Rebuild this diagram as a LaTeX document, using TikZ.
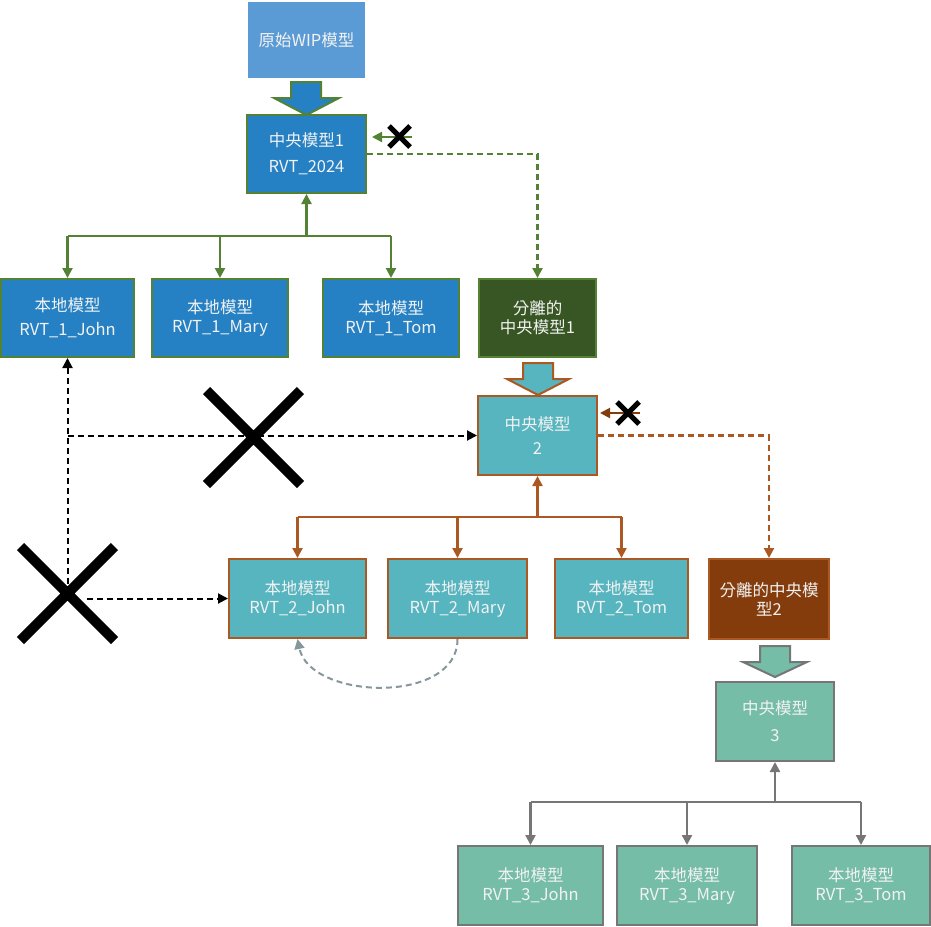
\documentclass[tikz,border=0pt]{standalone}
\usepackage{fontspec}
\newfontfamily\cjk{Noto Sans CJK TC}
\usetikzlibrary{arrows.meta,calc}
\definecolor{wipblue}{HTML}{5B9BD5}
\definecolor{boxblue}{HTML}{2581C4}
\definecolor{gborder}{HTML}{548235}
\definecolor{dkgreen}{HTML}{375623}
\definecolor{teal2}{HTML}{57B5BF}
\definecolor{brownl}{HTML}{AC5823}
\definecolor{dkbrown}{HTML}{843C0C}
\definecolor{sea}{HTML}{75BDA7}
\definecolor{grayl}{HTML}{767676}
\definecolor{curvec}{HTML}{86979B}
\definecolor{txt}{HTML}{F2F2F2}
\begin{document}
\begin{tikzpicture}[x=1pt,y=-1pt,
  box/.style={draw, line width=2pt, text=txt, align=center, inner sep=0pt,
    font=\cjk\fontsize{16.5}{19}\selectfont},
  bl/.style={box, fill=boxblue, draw=gborder},
  tl/.style={box, fill=teal2, draw=brownl},
  sl/.style={box, fill=sea, draw=grayl},
  tip/.style={-{Triangle[length=10pt,width=10pt]}},
  gline/.style={draw=gborder, line width=2.2pt},
  bline/.style={draw=brownl, line width=2.2pt},
  yline/.style={draw=grayl, line width=2.2pt},
  dsh/.style={dash pattern=on 6pt off 4pt},
  bdash/.style={draw=black, line width=2pt, dsh},
  xmark/.style={draw=black, line width=10pt},
  xsmall/.style={draw=black, line width=5pt},
  blockarrow/.style={line width=2pt, line join=miter}
]
\useasboundingbox (0,0) rectangle (931,926);

% nodes
\node[box, fill=wipblue, draw=none, minimum width=117pt, minimum height=76pt] (wip) at (306.5,40) {原始WIP模型};
\node[bl, minimum width=119pt, minimum height=78pt, font=\cjk\fontsize{16.5}{26}\selectfont] (c1) at (306.5,154) {中央模型1\\RVT\_2024};
\node[bl, minimum width=133pt, minimum height=78pt, font=\cjk\fontsize{16.5}{24}\selectfont] (l1j) at (67.5,318) {本地模型\\RVT\_1\_John};
\node[bl, minimum width=136pt, minimum height=78pt] (l1m) at (220,318) {本地模型\\RVT\_1\_Mary};
\node[bl, minimum width=136pt, minimum height=78pt] (l1t) at (391,318) {本地模型\\RVT\_1\_Tom};
\node[box, fill=dkgreen, draw=gborder, minimum width=117pt, minimum height=78pt] (s1) at (537.5,318) {分離的\\中央模型1};

\node[tl, minimum width=119pt, minimum height=79pt, font=\cjk\fontsize{16.5}{24}\selectfont] (c2) at (537.5,435.5) {中央模型\\2};
\node[tl, minimum width=137pt, minimum height=79pt] (l2j) at (297.5,598.5) {本地模型\\RVT\_2\_John};
\node[tl, minimum width=139pt, minimum height=79pt] (l2m) at (457.5,598.5) {本地模型\\RVT\_2\_Mary};
\node[tl, minimum width=133pt, minimum height=79pt] (l2t) at (621.5,598.5) {本地模型\\RVT\_2\_Tom};
\node[box, fill=dkbrown, draw=brownl, minimum width=120pt, minimum height=80pt] (s2) at (769,599) {分離的中央模\\型2};

\node[sl, minimum width=118pt, minimum height=79pt, font=\cjk\fontsize{16.5}{27}\selectfont] (c3) at (775,721.5) {中央模型\\3};
\node[sl, minimum width=145pt, minimum height=79pt] (l3j) at (530.5,885.5) {本地模型\\RVT\_3\_John};
\node[sl, minimum width=140pt, minimum height=79pt] (l3m) at (687,885.5) {本地模型\\RVT\_3\_Mary};
\node[sl, minimum width=138pt, minimum height=79pt] (l3t) at (861,885.5) {本地模型\\RVT\_3\_Tom};

% block arrows
\draw[blockarrow, fill=boxblue, draw=gborder] (291,82) -- (321,82) -- (321,98) -- (339,98) -- (306.5,115) -- (274,98) -- (291,98) -- cycle;
\draw[blockarrow, fill=teal2, draw=brownl] (523,363) -- (553,363) -- (553,379) -- (569,379) -- (538,395) -- (507,379) -- (523,379) -- cycle;
\draw[blockarrow, fill=sea, draw=grayl] (760,646) -- (790,646) -- (790,662) -- (807,662) -- (775,677) -- (743,662) -- (760,662) -- cycle;

% level 1 tree
\coordinate (j1) at (306.5,236);
\draw[gline, tip] (j1) -- (c1.south);
\draw[gline] (l1j.north |- j1) -- (l1t.north |- j1);
\draw[gline, tip] (l1j.north |- j1) -- (l1j.north);
\draw[gline, tip] (l1m.north |- j1) -- (l1m.north);
\draw[gline, tip] (l1t.north |- j1) -- (l1t.north);
\draw[gline, dsh, tip] (c1.east) -- (s1.north |- c1.east) -- (s1.north);
\coordinate (a1s) at (412,137);
\coordinate (a1e) at (372,137);
\draw[gline, tip] (a1s) -- (a1e);
\draw[xsmall] (389,126) -- (410,147) (410,126) -- (389,147);

% level 2 tree
\coordinate (j2) at (537.5,517);
\draw[bline, tip] (j2) -- (c2.south);
\draw[bline] (l2j.north |- j2) -- (l2t.north |- j2);
\draw[bline, tip] (l2j.north |- j2) -- (l2j.north);
\draw[bline, tip] (l2m.north |- j2) -- (l2m.north);
\draw[bline, tip] (l2t.north |- j2) -- (l2t.north);
\draw[bline, dsh, tip] (c2.east) -- (s2.north |- c2.east) -- (s2.north);
\coordinate (a2s) at (640,413);
\coordinate (a2e) at (600,413);
\draw[draw=dkbrown, line width=2pt, tip] (a2s) -- (a2e);
\draw[xsmall] (617,402) -- (639,424) (639,402) -- (617,424);

% curve
\draw[draw=curvec, line width=2pt, dsh, tip] (l2m.south) .. controls (458,705) and (310,700) .. (l2j.south);

% level 3 tree
\coordinate (j3) at (775,802);
\draw[yline, tip] (j3) -- (c3.south);
\draw[yline] (l3j.north |- j3) -- (l3t.north |- j3);
\draw[yline, tip] (l3j.north |- j3) -- (l3j.north);
\draw[yline, tip] (l3m.north |- j3) -- (l3m.north);
\draw[yline, tip] (l3t.north |- j3) -- (l3t.north);

% black dashed + crosses
\coordinate (x2) at (67.5,593.5);
\coordinate (x1) at (253.5,437.5);
\coordinate (d3) at (87,598.5);
\draw[bdash, tip] (x2) -- (l1j.south);
\draw[bdash, tip] (x2 |- c2.west) -- (c2.west);
\draw[bdash, tip] (d3) -- (l2j.west);
\draw[xmark] ($(x1)+(-47,-47)$) -- ($(x1)+(47,47)$) ($(x1)+(47,-47)$) -- ($(x1)+(-47,47)$);
\draw[xmark] ($(x2)+(-47,-47)$) -- ($(x2)+(47,47)$) ($(x2)+(47,-47)$) -- ($(x2)+(-47,47)$);
\end{tikzpicture}
\end{document}
